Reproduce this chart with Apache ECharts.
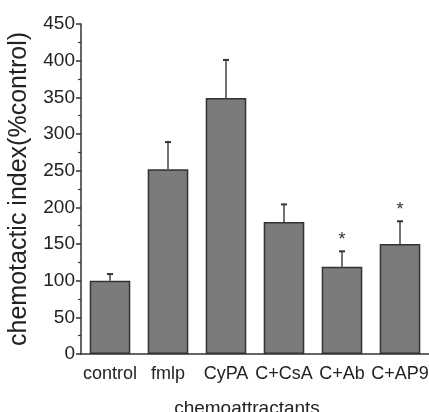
<!DOCTYPE html>
<html>
<head>
<meta charset="utf-8">
<script src="https://cdn.jsdelivr.net/npm/echarts@6/dist/echarts.min.js"></script>
<style>
  html, body { margin: 0; padding: 0; background: #fff; }
  #chart { width: 429px; height: 412px; }
</style>
</head>
<body>
<div id="chart"></div>
<script>
// data
var categories = ['control', 'fmlp', 'CyPA', 'C+CsA', 'C+Ab', 'C+AP9'];
var means = [100, 252, 349, 180, 119, 150];
var errors = [9, 37, 52, 24, 21, 31];
var marks = ['', '', '', '', '*', '*'];

var fontFam = 'Liberation Sans, Arial, sans-serif';

var errData = [];
for (var i = 0; i < categories.length; i++) {
    errData.push([i, means[i], means[i] + errors[i], marks[i]]);
}

var chart = echarts.init(document.getElementById('chart'));

var option = {
    animation: false,
    backgroundColor: '#fff',
    grid: {
        left: 81,
        right: 0,
        top: 24,
        bottom: 58,
        containLabel: false,
        outerBoundsMode: 'none'
    },
    xAxis: [
        {
            type: 'category',
            data: categories,
            name: 'chemoattractants',
            nameLocation: 'middle',
            nameGap: 45,
            nameTextStyle: {
                fontFamily: fontFam,
                fontSize: 19,
                color: '#222',
                padding: [0, 16, 0, 0]
            },
            axisLine: { lineStyle: { color: '#333', width: 1.5 } },
            axisTick: { alignWithLabel: true, length: 5, lineStyle: { color: '#333', width: 1.5 } },
            axisLabel: {
                fontFamily: fontFam,
                fontSize: 18,
                color: '#222',
                margin: 11,
                interval: 0
            },
            splitLine: { show: false }
        },
        {
            // ticks between categories, pointing inward
            type: 'category',
            data: categories,
            position: 'bottom',
            axisLine: { show: false },
            axisTick: { inside: true, length: 4, lineStyle: { color: '#333', width: 1.5 } },
            axisLabel: { show: false },
            splitLine: { show: false }
        }
    ],
    yAxis: {
        type: 'value',
        min: 0,
        max: 450,
        interval: 50,
        name: 'chemotactic index(%control)',
        nameLocation: 'middle',
        nameGap: 49,
        nameTextStyle: {
            fontFamily: fontFam,
            fontSize: 25,
            color: '#222'
        },
        axisLine: { show: true, lineStyle: { color: '#333', width: 1.5 } },
        axisTick: { show: true, length: 5, lineStyle: { color: '#333', width: 1.5 } },
        minorTick: { show: true, splitNumber: 2, length: 3, lineStyle: { color: '#333', width: 1.2 } },
        axisLabel: {
            fontFamily: fontFam,
            fontSize: 19,
            color: '#222',
            margin: 6
        },
        splitLine: { show: false }
    },
    series: [
        {
            type: 'bar',
            data: means,
            barWidth: '70%',
            itemStyle: {
                color: '#7b7b7b',
                borderColor: '#333',
                borderWidth: 1.5
            },
            z: 2
        },
        {
            type: 'custom',
            data: errData,
            z: 3,
            renderItem: function(params, api) {
                var x = api.coord([api.value(0), api.value(1)]);
                var top = api.coord([api.value(0), api.value(2)]);
                var cap = 3;
                var children = [
                    {
                        type: 'line',
                        shape: { x1: x[0], y1: x[1], x2: top[0], y2: top[1] },
                        style: { stroke: '#444', lineWidth: 1.5 }
                    },
                    {
                        type: 'line',
                        shape: { x1: top[0] - cap, y1: top[1], x2: top[0] + cap, y2: top[1] },
                        style: { stroke: '#333', lineWidth: 2 }
                    }
                ];
                var mark = errData[params.dataIndex][3];
                if (mark) {
                    children.push({
                        type: 'text',
                        style: {
                            text: mark,
                            x: top[0],
                            y: top[1] - 2,
                            align: 'center',
                            verticalAlign: 'bottom',
                            fontFamily: fontFam,
                            fontSize: 18,
                            fill: '#333'
                        }
                    });
                }
                return { type: 'group', children: children };
            }
        }
    ]
};

chart.setOption(option);
</script>
</body>
</html>
